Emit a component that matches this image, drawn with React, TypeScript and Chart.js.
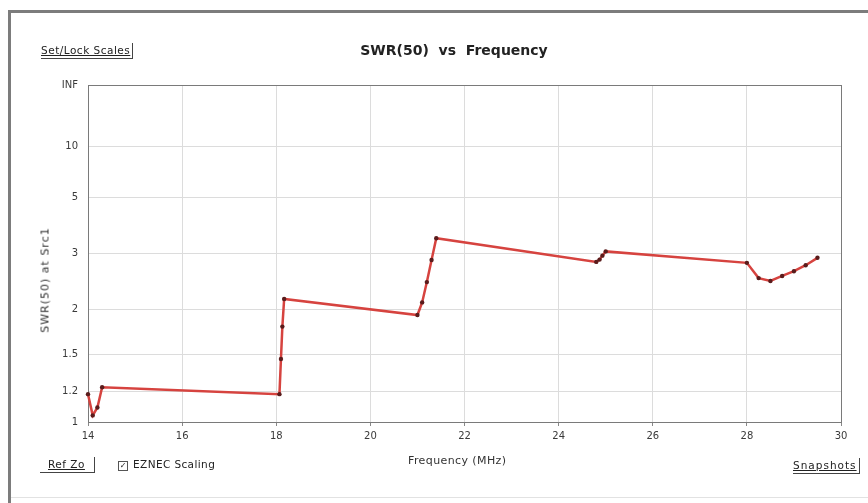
import React, { useEffect, useRef } from 'react';
import { Chart, registerables, LinearScale } from 'chart.js';

// ---- data ----
const freqMHz = [
  14.0, 14.1, 14.2, 14.3,
  18.068, 18.1, 18.13, 18.168,
  21.0, 21.1, 21.2, 21.3, 21.4,
  24.8, 24.87, 24.93, 25.0,
  28.0, 28.25, 28.5, 28.75, 29.0, 29.25, 29.5,
];
const swrValues = [
  1.18, 1.04, 1.09, 1.23,
  1.18, 1.46, 1.79, 2.15,
  1.93, 2.1, 2.42, 2.85, 3.4,
  2.81, 2.86, 2.95, 3.05,
  2.79, 2.49, 2.44, 2.53, 2.62, 2.74, 2.9,
];
const xTickValues = [14, 16, 18, 20, 22, 24, 26, 28, 30];
const INF_SWR = 1e9;
const swrTickValues = [1, 1.2, 1.5, 2, 3, 5, 10, INF_SWR];
const swrTickLabels = ['1', '1.2', '1.5', '2', '3', '5', '10', 'INF'];

const titleText = 'SWR(50)  vs  Frequency';
const xTitle = 'Frequency (MHz)';
const yTitle = 'SWR(50) at Src1';

// EZNEC-style SWR scale: linear in reflection coefficient
const rho = (s: number) => (s >= INF_SWR ? 1 : (s - 1) / (s + 1));

class SwrScale extends LinearScale {
  static id = 'swr';
  static defaults = {};
  determineDataLimits() {
    (this as any).min = 1;
    (this as any).max = INF_SWR;
  }
  buildTicks() {
    return swrTickValues.map((v) => ({ value: v }));
  }
  getPixelForValue(v: number) {
    return this.getPixelForDecimal(rho(v));
  }
  getValueForPixel(p: number) {
    const r = this.getDecimalForPixel(p);
    return r >= 1 ? INF_SWR : (1 + r) / (1 - r);
  }
}

Chart.register(...registerables, SwrScale as any);

const framePlugin = {
  id: 'plotFrame',
  beforeDatasetsDraw(chart: any) {
    const { ctx, chartArea } = chart;
    const { left, top, right, bottom } = chartArea;
    ctx.save();
    ctx.strokeStyle = '#7a7a7a';
    ctx.lineWidth = 1;
    ctx.strokeRect(Math.round(left) + 0.5, Math.round(top) + 0.5, Math.round(right - left), Math.round(bottom - top));
    ctx.restore();
  },
};

const FONT = '"DejaVu Sans", "Liberation Sans", Arial, sans-serif';

export default function App() {
  const ref = useRef<HTMLCanvasElement | null>(null);

  useEffect(() => {
    if (!ref.current) return;
    const chart = new Chart(ref.current, {
      type: 'line',
      data: {
        datasets: [
          {
            data: freqMHz.map((f, i) => ({ x: f, y: swrValues[i] })),
            borderColor: '#d6433f',
            borderWidth: 2.5,
            pointRadius: 2.2,
            pointBackgroundColor: '#5a1c1c',
            pointBorderColor: '#5a1c1c',
            pointBorderWidth: 0,
            tension: 0,
            clip: false as any,
          },
        ],
      },
      options: {
        animation: false,
        responsive: false,
        maintainAspectRatio: false,
        layout: { padding: { left: 0, right: 27, top: 85, bottom: 0 } },
        plugins: {
          legend: { display: false },
          tooltip: { enabled: false },
          title: { display: false },
        },
        scales: {
          x: {
            type: 'linear',
            min: 14,
            max: 30,
            afterBuildTicks: (scale: any) => {
              scale.ticks = xTickValues.map((v) => ({ value: v }));
            },
            afterFit: (scale: any) => {
              scale.height = 81;
            },
            grid: {
              color: '#dcdcdc',
              lineWidth: 1,
              drawTicks: true,
              tickLength: 4,
              tickColor: '#888',
            },
            border: { display: false },
            ticks: {
              color: '#3a3a3a',
              font: { family: FONT, size: 10 },
              padding: 4,
              maxRotation: 0,
              autoSkip: false,
            },
          },
          y: {
            type: 'swr' as any,
            afterFit: (scale: any) => {
              scale.width = 88;
            },
            grid: {
              color: '#dcdcdc',
              lineWidth: 1,
              drawTicks: false,
            },
            border: { display: false },
            ticks: {
              color: '#3a3a3a',
              font: { family: FONT, size: 10 },
              padding: 10,
              autoSkip: false,
              callback: (_v: any, i: number) => swrTickLabels[i],
            },
          } as any,
        },
      },
      plugins: [framePlugin],
    });
    return () => chart.destroy();
  }, []);

  const btnText: React.CSSProperties = {
    position: 'absolute',
    fontFamily: FONT,
    fontSize: 10.5,
    letterSpacing: 0.5,
    color: '#222',
    whiteSpace: 'pre',
    borderRight: '1px solid #444',
    borderBottom: '1px solid #444',
    textDecoration: 'underline',
    lineHeight: '15px',
    paddingRight: 2,
  };

  return (
    <div style={{ position: 'absolute', left: 0, top: 0, width: 868, height: 503, background: '#fff', overflow: 'hidden' }}>
      <canvas ref={ref} width={868} height={503} style={{ position: 'absolute', left: 0, top: 0, width: 868, height: 503 }} />
      {/* window frame */}
      <div style={{ position: 'absolute', left: 8, top: 10, width: 860, height: 3, background: '#7c7c7c' }} />
      <div style={{ position: 'absolute', left: 8, top: 10, width: 3, height: 493, background: '#7c7c7c' }} />
      <div style={{ position: 'absolute', left: 11, top: 497, width: 857, height: 1, background: '#e2e2e2' }} />
      {/* title */}
      <div
        style={{
          position: 'absolute',
          left: 260,
          width: 388,
          top: 42,
          textAlign: 'center',
          fontFamily: FONT,
          fontWeight: 'bold',
          fontSize: 14,
          color: '#222',
          whiteSpace: 'pre',
        }}
      >
        {titleText}
      </div>
      {/* buttons */}
      <div style={{ ...btnText, left: 41, top: 43 }}>Set/Lock Scales</div>
      <div style={{ ...btnText, left: 40, top: 457, paddingLeft: 8, paddingRight: 9 }}>Ref Zo</div>
      <div style={{ ...btnText, left: 793, top: 458, letterSpacing: 1 }}>Snapshots</div>
      {/* checkbox */}
      <div
        style={{
          position: 'absolute',
          left: 118,
          top: 461,
          width: 8,
          height: 8,
          border: '1px solid #555',
          fontSize: 8,
          lineHeight: '8px',
          textAlign: 'center',
          fontFamily: FONT,
          color: '#222',
        }}
      >
        ✓
      </div>
      <div style={{ position: 'absolute', left: 133, top: 458, fontFamily: FONT, fontSize: 10.5, letterSpacing: 0.4, color: '#222', whiteSpace: 'pre' }}>
        EZNEC Scaling
      </div>
      {/* axis titles */}
      <div
        style={{
          position: 'absolute',
          left: 408,
          top: 454,
          fontFamily: FONT,
          fontSize: 11,
          letterSpacing: 0.4,
          color: '#333',
          whiteSpace: 'pre',
        }}
      >
        {xTitle}
      </div>
      <div
        style={{
          position: 'absolute',
          left: 45,
          top: 280,
          transform: 'translate(-50%, -50%) rotate(-90deg)',
          fontFamily: FONT,
          fontSize: 11,
          letterSpacing: 1,
          color: '#333',
          whiteSpace: 'pre',
        }}
      >
        {yTitle}
      </div>
    </div>
  );
}
